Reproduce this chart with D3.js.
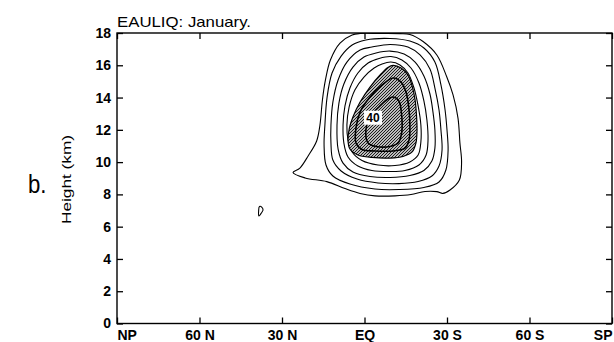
<!DOCTYPE html>
<html><head><meta charset="utf-8">
<script src="https://cdn.jsdelivr.net/npm/d3@7"></script>
<style>
html,body{margin:0;padding:0;background:#fff;}
svg{display:block;}
text{font-family:"Liberation Sans",Arial,Helvetica,sans-serif;fill:#000;}
</style></head>
<body>
<svg id="chart" width="614" height="342"></svg>
<script>
// ---- data ----
const title = "EAULIQ: January.";
const panelLabel = "b.";
const yTitle = "Height (km)";
const latTicks = [90, 60, 30, 0, -30, -60, -90];
const latLabels = ["NP", "60 N", "30 N", "EQ", "30 S", "60 S", "SP"];
const heightTicks = [0, 2, 4, 6, 8, 10, 12, 14, 16, 18];
const peakLabel = "40";
const peakLabelAt = [-3.1, 12.75];

// contour lines, [latitude (N +), height km] (outer to inner)
const ring1 = [[8.9,17.38],[4.5,17.88],[1.6,17.97],[-5.6,17.97],[-12.9,17.96],[-16.5,17.91],[-21.3,17.47],[-26.3,16.64],[-29.9,15.29],[-32.2,14.16],[-34.0,12.73],[-34.7,11.18],[-35.3,10.01],[-34.5,8.89],[-31.1,8.27],[-28.5,8.06],[-26.3,8.17],[-22.0,8.18],[-16.9,7.99],[-11.1,7.91],[-3.8,7.91],[1.6,8.06],[7.1,8.36],[13.7,8.79],[21.6,9.02],[26.0,9.36],[23.5,9.63],[20.5,10.38],[17.4,11.31],[16.2,12.3],[15.3,13.85],[14.2,15.09],[12.4,16.33]];
const ring2 = [[4.5,17.26],[-0.5,17.57],[-9.3,17.66],[-16.5,17.5],[-21.6,17.07],[-25.6,16.2],[-27.8,14.78],[-29.3,13.23],[-30.0,11.99],[-30.4,10.75],[-29.6,9.51],[-27.1,8.77],[-21.6,8.43],[-12.5,8.30],[-3.8,8.33],[5.3,8.64],[11.5,9.14],[14.0,9.82],[14.7,11.06],[14.4,12.30],[13.6,14.03],[11.8,15.52],[8.5,16.57]];
const ring3 = [[1.6,16.95],[-2.7,17.13],[-9.3,17.29],[-15.8,17.13],[-20.2,16.64],[-23.8,15.77],[-25.6,14.59],[-27.1,13.23],[-27.8,11.99],[-28.2,10.75],[-27.1,9.76],[-24.5,9.14],[-19.5,8.80],[-12.5,8.67],[-4.9,8.71],[2.7,8.95],[8.5,9.45],[11.5,10.13],[12.2,11.18],[12.2,12.30],[11.5,13.72],[9.6,15.09],[6.4,16.2]];
const ring4 = [[0.2,16.51],[-4.2,16.76],[-9.3,16.88],[-14.4,16.70],[-18.4,16.2],[-21.6,15.34],[-23.8,14.22],[-24.9,13.10],[-25.6,11.99],[-25.6,10.87],[-24.5,10.07],[-21.6,9.48],[-16.5,9.17],[-9.3,9.05],[-2.0,9.11],[4.2,9.39],[7.8,9.94],[9.6,10.81],[10.0,12.30],[9.3,13.66],[7.5,14.84],[4.2,15.89]];
const ring5 = [[-1.3,16.14],[-5.3,16.42],[-9.6,16.54],[-13.6,16.33],[-16.9,15.83],[-19.8,14.90],[-21.6,13.79],[-22.7,12.61],[-23.1,11.37],[-22.4,10.44],[-19.8,9.82],[-14.7,9.48],[-9.3,9.42],[-2.7,9.48],[2.4,9.76],[6.0,10.32],[7.5,11.18],[7.8,12.30],[7.1,13.48],[5.3,14.59],[2.4,15.52]];
const ring6 = [[-3.5,15.83],[-6.4,16.08],[-9.6,16.20],[-12.9,16.02],[-15.8,15.52],[-18.0,14.59],[-19.5,13.48],[-20.5,12.30],[-20.5,11.25],[-19.5,10.44],[-16.5,10.01],[-11.1,9.79],[-4.9,9.82],[0.9,10.10],[4.5,10.63],[6.0,11.37],[6.4,12.30],[5.6,13.41],[3.5,14.47],[0.2,15.27]];
const ring7 = [[-10.4,15.99],[-13.3,15.83],[-15.8,15.40],[-17.3,14.72],[-18.4,13.85],[-18.9,12.92],[-19.1,11.99],[-18.7,11.18],[-17.3,10.63],[-14.0,10.35],[-9.3,10.25],[-2.7,10.29],[2.4,10.44],[5.3,10.81],[6.0,11.37],[5.5,12.11],[4.2,12.80],[1.6,13.72],[-2.0,14.65],[-6.0,15.46],[-8.5,15.86]];
const ring8 = [[-10.4,15.21],[-13.3,14.96],[-15.1,14.34],[-16.2,13.23],[-16.5,12.30],[-16.2,11.37],[-14.7,10.87],[-10.4,10.69],[-3.8,10.69],[0.9,10.78],[3.1,11.18],[3.1,12.11],[1.6,13.10],[-2.0,14.03],[-6.4,14.78]];
const ring9 = [[-10.4,14.03],[-12.5,13.79],[-13.5,12.92],[-13.5,11.80],[-12.2,11.18],[-9.3,10.97],[-4.2,10.97],[-1.3,11.18],[-0.5,11.99],[-2.0,12.80],[-5.6,13.48],[-8.5,13.91]];
const smallLoop = [[38.2,7.25],[37.3,7.2],[36.9,7.03],[37.5,6.85],[38.4,6.66],[38.5,6.97]];

const plainRings = [ring1, ring2, ring3, ring4, ring5, ring6];
const innerRings = [ring8, ring9];

// ---- drawing ----
const svg = d3.select("#chart");
const pLeft = 117, pRight = 612, pTop = 33, pBottom = 323.5;
const x = d3.scaleLinear().domain([90, -90]).range([pLeft, pRight]);
const y = d3.scaleLinear().domain([0, 18]).range([pBottom, pTop]);

const defs = svg.append("defs");
const pat = defs.append("pattern").attr("id", "hatch")
  .attr("patternUnits", "userSpaceOnUse").attr("width", 3).attr("height", 3);
pat.append("rect").attr("width", 3).attr("height", 3).attr("fill", "#fff");
pat.append("path").attr("d", "M-1,1 l2,-2 M0,3 l3,-3 M2,4 l2,-2")
  .attr("stroke", "#111").attr("stroke-width", 1.1);

defs.append("clipPath").attr("id", "plotclip").append("rect")
  .attr("x", pLeft).attr("y", pTop).attr("width", pRight - pLeft).attr("height", pBottom - pTop);

const line = d3.line().x(d => x(d[0])).y(d => y(d[1])).curve(d3.curveCatmullRomClosed.alpha(0.5));

const g = svg.append("g").attr("clip-path", "url(#plotclip)");
g.selectAll("path.ring").data(plainRings).join("path")
  .attr("class", "ring").attr("d", line)
  .attr("fill", "none").attr("stroke", "#000").attr("stroke-width", 1.1);
g.append("path").datum(ring7).attr("d", line)
  .attr("fill", "url(#hatch)").attr("stroke", "#000").attr("stroke-width", 1.2);
g.selectAll("path.inner").data(innerRings).join("path")
  .attr("class", "inner").attr("d", line)
  .attr("fill", "none").attr("stroke", "#000").attr("stroke-width", 1.6);
g.append("path").datum(smallLoop).attr("d", line)
  .attr("fill", "none").attr("stroke", "#000").attr("stroke-width", 1.1);

// peak label
const lx = x(peakLabelAt[0]), ly = y(peakLabelAt[1]);
svg.append("rect").attr("x", lx - 9).attr("y", ly - 7).attr("width", 18).attr("height", 14).attr("fill", "#fff");
svg.append("text").attr("x", lx).attr("y", ly).attr("dy", "0.36em")
  .attr("text-anchor", "middle").attr("font-size", 12).attr("font-weight", "bold").text(peakLabel);

// axes
const axL = svg.append("g").attr("transform", `translate(${pLeft},0)`)
  .call(d3.axisLeft(y).tickValues(heightTicks).tickSize(-6).tickPadding(6).tickFormat(d3.format("d")));
axL.selectAll("text").attr("font-size", 14).attr("font-weight", "bold")
  .style("font-family", '"Liberation Sans",Arial,sans-serif');
const axR = svg.append("g").attr("transform", `translate(${pRight},0)`)
  .call(d3.axisRight(y).tickValues(heightTicks).tickSize(-6).tickFormat(""));
const axB = svg.append("g").attr("transform", `translate(0,${pBottom})`)
  .call(d3.axisBottom(x).tickValues(latTicks).tickSize(-6).tickPadding(7).tickFormat((d, i) => latLabels[i]));
axB.selectAll("text").attr("font-size", 14).attr("font-weight", "bold")
  .style("font-family", '"Liberation Sans",Arial,sans-serif')
  .attr("text-anchor", (d, i) => i === 0 ? "start" : (i === latTicks.length - 1 ? "end" : "middle"));
const axT = svg.append("g").attr("transform", `translate(0,${pTop})`)
  .call(d3.axisTop(x).tickValues(latTicks).tickSize(-6).tickFormat(""));
[axL, axR, axB, axT].forEach(a => {
  a.select(".domain").remove();
  a.selectAll(".tick line").attr("stroke", "#000").attr("stroke-width", 1.3);
});
svg.append("rect").attr("x", pLeft).attr("y", pTop).attr("width", pRight - pLeft).attr("height", pBottom - pTop)
  .attr("fill", "none").attr("stroke", "#000").attr("stroke-width", 1.4);

// titles
svg.append("text").attr("x", pLeft).attr("y", 27).attr("font-size", 14.5)
  .attr("textLength", 134).attr("lengthAdjust", "spacingAndGlyphs").text(title);
svg.append("text").attr("transform", "translate(71,179.5) rotate(-90)")
  .attr("text-anchor", "middle").attr("font-size", 13.5)
  .attr("textLength", 89).attr("lengthAdjust", "spacingAndGlyphs").text(yTitle);
svg.append("text").attr("x", 28).attr("y", 193).attr("font-size", 26)
  .attr("textLength", 18.5).attr("lengthAdjust", "spacingAndGlyphs").text(panelLabel);
</script>
</body></html>
